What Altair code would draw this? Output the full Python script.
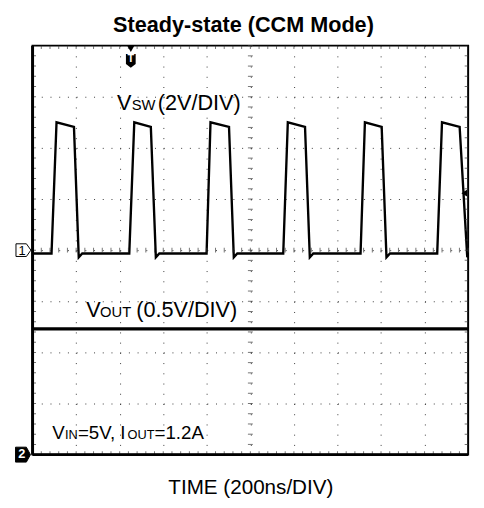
import altair as alt
import pandas as pd

FONT = "Liberation Sans"

# ---- data (time in ns, volts) ----
# VSW (channel 1, 2 V/div, ground at screen centre)
rise_start = [87, 444, 799, 1151, 1506, 1858]
rise_end = [110, 467, 817, 1172, 1526, 1880]
fall_start = [190, 543, 902, 1251, 1603, 1961]
fall_end = [212, 566, 924, 1273, 1625, 1996]
recover = [228, 582, 940, 1289, 1641, 2000]
v_low = -0.13
v_high_start = 5.0
v_high_end = 4.82
v_dip = -0.28

# VOUT (channel 2, 0.5 V/div, ground at screen bottom)
vout_t = [0, 500, 1000, 1500, 2000]
vout_v = [1.23, 1.23, 1.23, 1.23, 1.23]

trigger_t = 451
trigger_level = 2.23

minor_t = [40 * i for i in range(51)]
minor_v = [round(-8 + 0.4 * i, 2) for i in range(41)]
major_t = [200, 400, 600, 800, 1000, 1200, 1400, 1600, 1800]
major_v = [-6, -4, -2, 0, 2, 4, 6]

# ---- build the VSW trace table ----
ts, vs = [0], [v_low]
for rs, re, fs, fe, rc in zip(rise_start, rise_end, fall_start, fall_end, recover):
    ts += [rs, re, fs, fe]
    vs += [v_low, v_high_start, v_high_end, v_dip]
    if rc > fe:
        ts.append(rc)
        vs.append(v_low if rc < 2000 else -0.2)
vsw_df = pd.DataFrame({"t": ts, "v": vs})
vout_df = pd.DataFrame({"t": vout_t, "v": vout_v})
one = pd.DataFrame({"a": [0]})

XS = alt.Scale(domain=[0, 2000], nice=False, zero=False)
YS1 = alt.Scale(domain=[-8, 8], nice=False, zero=False)
YS2 = alt.Scale(domain=[0, 4], nice=False, zero=False)
GRID = "#3a3a3a"

XAXIS = alt.Axis(
    grid=True, values=major_t, domain=False, ticks=False, labels=False,
    title="TIME (200ns/DIV)", titleFont=FONT, titleFontSize=21,
    titleFontWeight="normal", titleColor="black", titleBaseline="alphabetic",
    titlePadding=40, gridDash=[1, 9.4], gridColor=GRID, gridWidth=1,
)
YAXIS = alt.Axis(
    grid=True, values=major_v, domain=False, ticks=False, labels=False,
    title=None, gridDash=[1, 7.86], gridColor=GRID, gridWidth=1,
)


def xd(val):
    return alt.XDatum(val, type="quantitative", scale=XS, axis=XAXIS)


def yd(val, ys):
    return alt.YDatum(val, type="quantitative", scale=ys, axis=None)


def txt(s, t, v, size, ys, weight="normal", color="black", align="left",
        baseline="alphabetic", dy=0):
    return alt.Chart(one).mark_text(
        text=s, font=FONT, fontSize=size, fontWeight=weight, color=color,
        align=align, baseline=baseline, dy=dy,
    ).encode(x=xd(t), y=yd(v, ys))


vsw = alt.Chart(vsw_df).mark_line(color="black", strokeWidth=2.4, clip=True).encode(
    x=alt.X("t:Q", scale=XS, axis=XAXIS),
    y=alt.Y("v:Q", scale=YS1, axis=YAXIS),
)

vout = alt.Chart(vout_df).mark_line(color="black", strokeWidth=3.5, clip=True).encode(
    x=alt.X("t:Q", scale=XS, axis=XAXIS),
    y=alt.Y("v:Q", scale=YS2, axis=None),
)

# minor ticks on the centre lines
ct_v = alt.Chart(pd.DataFrame({"v": minor_v})).mark_tick(
    orient="horizontal", size=5, thickness=1, color=GRID).encode(
    x=xd(1000), y=alt.Y("v:Q", scale=YS1, axis=None))
ct_h = alt.Chart(pd.DataFrame({"t": minor_t})).mark_tick(
    orient="vertical", size=5, thickness=1, color=GRID).encode(
    x=alt.X("t:Q", scale=XS, axis=XAXIS), y=yd(0, YS1))

# minor ticks on the border
tb = pd.DataFrame({"t": minor_t * 2, "v": [8] * len(minor_t) + [-8] * len(minor_t)})
lr = pd.DataFrame({"v": minor_v * 2, "t": [0] * len(minor_v) + [2000] * len(minor_v)})
bt_tb = alt.Chart(tb).mark_tick(orient="vertical", size=7, thickness=1,
                                color=GRID, clip=True).encode(
    x=alt.X("t:Q", scale=XS, axis=XAXIS), y=alt.Y("v:Q", scale=YS1, axis=None))
bt_lr = alt.Chart(lr).mark_tick(orient="horizontal", size=7, thickness=1,
                                color=GRID, clip=True).encode(
    x=alt.X("t:Q", scale=XS, axis=XAXIS), y=alt.Y("v:Q", scale=YS1, axis=None))

left_edge = alt.Chart(one).mark_rule(color="black", strokeWidth=3).encode(x=xd(0))
bottom_edge = alt.Chart(one).mark_rule(color="black", strokeWidth=3).encode(y=yd(-8, YS1))

# channel markers
m1 = alt.Chart(one).mark_point(
    shape="M-1,-0.85L0.4,-0.85L1,0L0.4,0.85L-1,0.85Z", size=230, filled=True,
    fill="white", stroke="black", strokeWidth=1, opacity=1).encode(
    x=xd(-42), y=yd(0, YS1))
m1t = txt("1", -48, 0, 13, YS1, align="center", baseline="middle", dy=0.5)
m2 = alt.Chart(one).mark_point(
    shape="M-1,-1L0.45,-1L1,0L0.45,1L-1,1Z", size=230, filled=True,
    fill="black", stroke="black", strokeWidth=1, opacity=1).encode(
    x=xd(-44), y=yd(0, YS2))
m2t = txt("2", -50, 0, 13, YS2, weight="bold", color="white", align="center",
          baseline="middle", dy=-1)

trig_tri = alt.Chart(one).mark_point(
    shape="triangle-down", size=60, filled=True, color="black", opacity=1,
    yOffset=3).encode(x=xd(trigger_t), y=yd(8, YS1))
trig_box = alt.Chart(one).mark_point(
    shape="M-0.7,-1L0.7,-1L0.7,0.45L0,1L-0.7,0.45Z", size=200, filled=True,
    color="black", opacity=1, yOffset=15.5).encode(x=xd(trigger_t), y=yd(8, YS1))
trig_t = txt("T", trigger_t, 8, 11, YS1, weight="bold", color="white",
             align="center", baseline="middle", dy=14)
trig_lvl = alt.Chart(one).mark_point(
    shape="triangle-left", size=45, filled=True, color="black", opacity=1,
    xOffset=-4).encode(x=xd(2000), y=yd(trigger_level, YS1))

labels = [
    txt("V", 388, 5.5, 22, YS1),
    txt("SW", 455, 5.5, 15, YS1),
    txt("(2V/DIV)", 575, 5.5, 22, YS1),
    txt("V", 246, 1.346, 22, YS2),
    txt("OUT", 310, 1.346, 15, YS2),
    txt("(0.5V/DIV)", 476, 1.346, 22, YS2),
    txt("V", 90, 0.154, 19, YS2),
    txt("IN", 149, 0.154, 13, YS2),
    txt("=5V, I", 208, 0.154, 19, YS2),
    txt("OUT", 436, 0.154, 13, YS2),
    txt("=1.2A", 560, 0.154, 19, YS2),
]

chart = alt.layer(
    vsw, ct_v, ct_h, bt_tb, bt_lr, vout, left_edge, bottom_edge,
    m1, m1t, m2, m2t, trig_tri, trig_box, trig_t, trig_lvl, *labels,
).resolve_scale(y="independent").properties(
    width=443, height=416,
    autosize=alt.AutoSizeParams(type="none"),
    padding={"left": 25, "top": 34, "right": 8, "bottom": 50},
    title=alt.TitleParams(
        "Steady-state (CCM Mode)", font=FONT, fontSize=22, fontWeight="bold",
        color="black", baseline="alphabetic", offset=11, dx=-7, dy=21,
        anchor="middle", frame="group"),
    background="white",
).configure_view(stroke="black", strokeWidth=2)

chart.save("out.html", embed_options={"renderer": "svg", "actions": False})
